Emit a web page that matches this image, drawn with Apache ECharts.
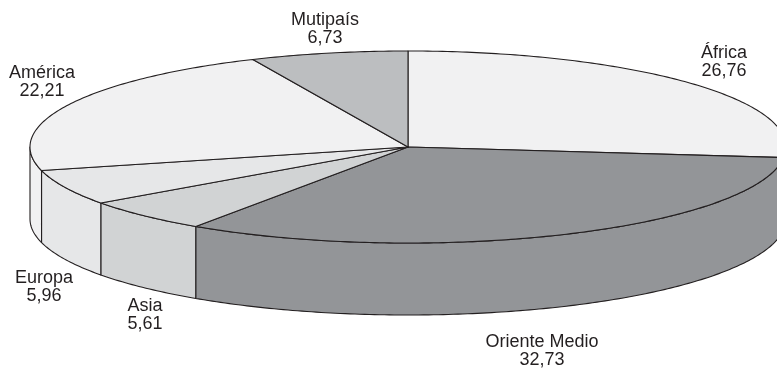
<!DOCTYPE html>
<html>
<head>
<meta charset="utf-8">
<script src="https://cdn.jsdelivr.net/npm/echarts@6/dist/echarts.min.js"></script>
<style>
  html, body { margin: 0; padding: 0; background: #ffffff; }
  #chart { width: 777px; height: 369px; }
</style>
</head>
<body>
<div id="chart"></div>
<script>
// Regions and their shares (percent), clockwise from 12 o'clock
const regions = ['África', 'Oriente Medio', 'Asia', 'Europa', 'América', 'Mutipaís'];
const shares = [26.76, 32.73, 5.61, 5.96, 22.21, 6.73];

// Slice fills
const sliceColors = ['#f1f1f2', '#939598', '#d1d3d4', '#e6e7e8', '#f1f1f2', '#bcbec0'];

// Label anchors (centre of the two-line label block)
const labelAnchors = [[724, 62], [542, 351], [145, 315], [44, 287], [42, 82], [325, 29]];

// Ellipse geometry of the tilted pie
const geo = { cx: 408, cy: 147, rx: 378, ry: 96, depth: 72 };
const INK = '#231f20';

const total = shares.reduce((s, v) => s + v, 0);
const starts = [], ends = [];
(function () {
  let acc = 0;
  shares.forEach(v => {
    starts.push(acc / total * Math.PI * 2);
    acc += v;
    ends.push(acc / total * Math.PI * 2);
  });
})();

function rim(theta, dy) {
  return [geo.cx + geo.rx * Math.sin(theta), geo.cy - geo.ry * Math.cos(theta) + (dy || 0)];
}
function arc(a0, a1, dy) {
  const n = Math.max(2, Math.ceil((a1 - a0) / (Math.PI / 240)));
  const pts = [];
  for (let k = 0; k <= n; k++) pts.push(rim(a0 + (a1 - a0) * k / n, dy));
  return pts;
}
function fmt(v) { return v.toFixed(2).replace('.', ','); }

const chart = echarts.init(document.getElementById('chart'), null, { renderer: 'canvas' });

chart.setOption({
  backgroundColor: '#ffffff',
  animation: false,
  series: [
    {
      // visible outer walls of the front half
      type: 'custom',
      coordinateSystem: 'none',
      silent: true,
      data: shares.map((v, i) => [v, i]),
      renderItem: function (params, api) {
        const i = params.dataIndex;
        const lo = Math.max(starts[i], Math.PI / 2);
        const hi = Math.min(ends[i], Math.PI * 1.5);
        if (hi <= lo) return { type: 'group', children: [] };
        const top = arc(lo, hi, 0);
        const bottom = arc(lo, hi, geo.depth).reverse();
        return {
          type: 'polygon',
          shape: { points: top.concat(bottom) },
          style: { fill: sliceColors[i], stroke: INK, lineWidth: 1.1, lineJoin: 'round' }
        };
      }
    },
    {
      // top faces and labels
      type: 'custom',
      coordinateSystem: 'none',
      silent: true,
      data: shares.map((v, i) => [v, i]),
      renderItem: function (params, api) {
        const i = params.dataIndex;
        const pts = [[geo.cx, geo.cy]].concat(arc(starts[i], ends[i], 0));
        return {
          type: 'group',
          children: [
            {
              type: 'polygon',
              shape: { points: pts },
              style: { fill: sliceColors[i], stroke: INK, lineWidth: 1.1, lineJoin: 'round' }
            },
            {
              type: 'text',
              x: labelAnchors[i][0],
              y: labelAnchors[i][1],
              style: {
                text: regions[i] + '\n' + fmt(api.value(0)),
                fill: INK,
                fontSize: 18,
                fontFamily: '"Liberation Sans", Arial, Helvetica, sans-serif',
                align: 'center',
                verticalAlign: 'middle',
                lineHeight: 18
              }
            }
          ]
        };
      }
    }
  ]
});
</script>
</body>
</html>
